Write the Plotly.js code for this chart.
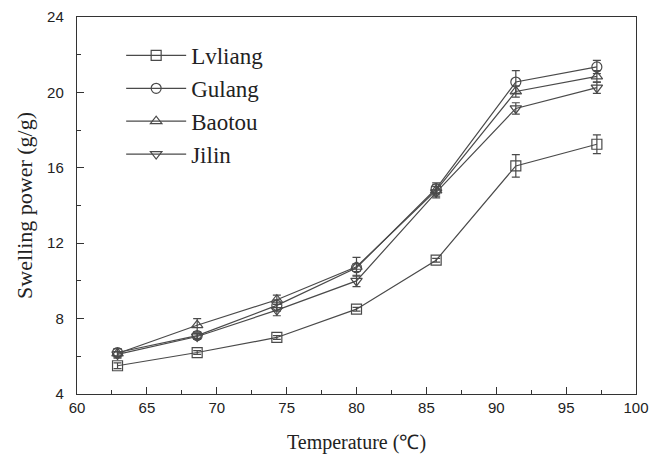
<!DOCTYPE html>
<html><head><meta charset="utf-8">
<script src="https://cdn.plot.ly/plotly-3.0.1.min.js"></script>
<style>body{margin:0;background:#fff}</style>
</head><body>
<div id="chart" style="width:659px;height:456px"></div>
<script>
const temperature = [62.9, 68.6, 74.3, 80.0, 85.7, 91.4, 97.2];
const seriesNames = ["Lvliang", "Gulang", "Baotou", "Jilin"];
const lvliang = [5.5, 6.2, 7.0, 8.5, 11.1, 16.1, 17.25];
const gulang  = [6.2, 7.1, 8.7, 10.7, 14.9, 20.55, 21.35];
const baotou  = [6.15, 7.65, 9.0, 10.75, 14.8, 20.05, 20.85];
const jilin   = [6.1, 7.05, 8.45, 10.0, 14.7, 19.15, 20.25];
const lvliangErr = [0.15, 0.1, 0.1, 0.1, 0.1, 0.6, 0.5];
const gulangErr  = [0.2, 0.15, 0.3, 0.2, 0.3, 0.6, 0.35];
const baotouErr  = [0.25, 0.35, 0.25, 0.5, 0.3, 0.3, 0.3];
const jilinErr   = [0.15, 0.15, 0.3, 0.3, 0.3, 0.3, 0.3];
const symbols = ["square-open", "circle-open", "triangle-up-open", "triangle-down-open"];

const ys = [lvliang, gulang, baotou, jilin];
const errs = [lvliangErr, gulangErr, baotouErr, jilinErr];
const col = "#4a4a4a";
const traces = ys.map((y, i) => ({
  x: temperature, y: y, name: seriesNames[i], type: "scatter", mode: "lines+markers",
  line: {color: col, width: 1.2},
  marker: {symbol: symbols[i], size: 10, color: col, line: {width: 1.2, color: col}},
  error_y: {type: "data", array: errs[i], visible: true, color: col, thickness: 1.2, width: 4}
}));

const layout = {
  width: 659, height: 456,
  margin: {l: 77, r: 23, t: 17, b: 62},
  paper_bgcolor: "#fff", plot_bgcolor: "#fff",
  showlegend: true,
  legend: {x: 0.079, y: 0.955, xanchor: "left", yanchor: "top", bgcolor: "rgba(0,0,0,0)",
    font: {family: "Liberation Serif, Times New Roman, serif", size: 23, color: "#222"},
    itemwidth: 60, tracegroupgap: 0},
  xaxis: {
    range: [60, 100], dtick: 5, tick0: 60, ticks: "inside", ticklen: 7, tickwidth: 1, tickcolor: "#333",
    minor: {dtick: 2.5, ticks: "inside", ticklen: 4, tickcolor: "#333"},
    showline: true, linecolor: "#333", linewidth: 1.2, mirror: true, showgrid: false, zeroline: false,
    tickfont: {family: "Liberation Sans, Arial, sans-serif", size: 15, color: "#222"},
    title: {text: "Temperature (℃)", font: {family: "Liberation Serif, Times New Roman, serif", size: 20, color: "#222"}, standoff: 19}
  },
  yaxis: {
    range: [4, 24], dtick: 4, tick0: 4, ticks: "inside", ticklen: 7, tickwidth: 1, tickcolor: "#333",
    minor: {dtick: 2, ticks: "inside", ticklen: 4, tickcolor: "#333"},
    showline: true, linecolor: "#333", linewidth: 1.2, mirror: true, showgrid: false, zeroline: false,
    ticklabelstandoff: 9,
    tickfont: {family: "Liberation Sans, Arial, sans-serif", size: 15, color: "#222"},
    title: {text: "Swelling power (g/g)", font: {family: "Liberation Serif, Times New Roman, serif", size: 22, color: "#222"}, standoff: 8}
  }
};
Plotly.newPlot("chart", traces, layout, {displayModeBar: false, staticPlot: true});
</script>
</body></html>
